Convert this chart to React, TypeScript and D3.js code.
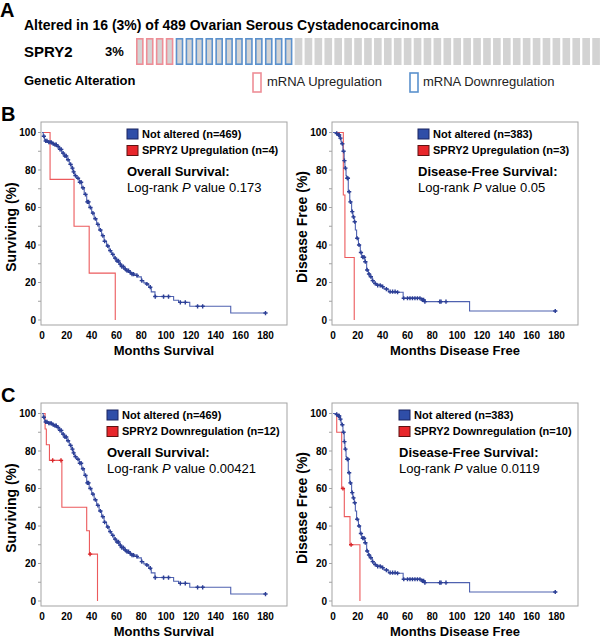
import React from 'react';
import * as d3 from 'd3';

const FONT = '"Liberation Sans", Arial, Helvetica, sans-serif';

// --- panel A: oncoprint ---
const oncoTypes = ['up', 'down', 'none'];
const oncoCounts = [4, 12, 31];
const oncoColors = { up: '#ee8e97', down: '#5b91cd', none: '#d3d3d3' };
const legendLabels = ['mRNA Upregulation', 'mRNA Downregulation'];

// --- KM data: not altered, overall survival (n=469) ---
const osTime = [0, 1, 2, 3, 5, 8, 10, 12, 14, 16, 18, 20, 22, 24, 25, 26, 28, 30, 32, 34, 36, 38, 40, 42, 44, 46, 48, 50, 52, 54, 56, 58, 60, 62, 64, 66, 68, 70, 72, 74, 77, 80, 82, 84, 86, 88, 91, 106, 110, 119, 152, 180];
const osSurv = [100, 98, 96, 95.5, 94.8, 94, 93.5, 92.5, 91, 89, 87.5, 85.5, 83, 81, 79, 77, 75.6, 73.5, 70.5, 67, 63, 60, 57, 54, 51, 48, 45, 42, 39.5, 37, 35, 33, 31.5, 29.8, 28.5, 27.2, 26.3, 25.4, 24.5, 23.8, 23, 21, 19.8, 19.2, 17.5, 15, 12.5, 10.5, 9.4, 7.3, 3.7, 3.7];
const osCensor = [1.5, 3, 4, 5.5, 6.5, 7.5, 9, 10.5, 11.5, 13, 14.5, 15.5, 17, 18.5, 19.5, 21, 23, 24.5, 25.5, 27, 29, 30.5, 31.5, 33, 35, 36.5, 37.5, 39, 41, 43, 45, 47, 49, 50.5, 53, 55, 57, 58.9, 60.5, 61.6, 63, 64.3, 65.5, 67, 68.5, 69.7, 71, 72.5, 73.7, 76.4, 80.4, 84.5, 87.2, 91.2, 97.9, 101.9, 111.4, 115.4, 125.3, 129.4, 180];

// --- not altered, disease free (n=383) ---
const dfsTime = [0, 2, 4, 5.5, 6.5, 7, 8, 9, 9.6, 10.5, 11, 12.3, 13.5, 15, 16, 17.1, 18, 19, 20.5, 22, 23.1, 25.7, 27.1, 28.5, 29.7, 31.5, 33, 35.1, 39, 41, 44.5, 51.2, 56.5, 71.3, 74, 110, 180];
const dfsSurv = [100, 99.5, 98.7, 97, 95, 94, 90, 85, 81, 77, 75.6, 68.4, 63, 57.8, 55, 52.4, 48, 43.6, 40, 36, 33.5, 31.1, 26.7, 24.5, 23.1, 21, 19.5, 18.5, 17.8, 16.5, 15.1, 14.8, 11.6, 10.7, 9.8, 4.8, 4.8];
const dfsCensor = [3, 4.5, 5, 6, 7.5, 8.5, 9.2, 10, 11.5, 12, 13, 14, 15.5, 16.5, 17.5, 19.5, 21, 22.5, 24, 25, 26, 27.5, 29, 30.5, 32, 34, 36, 38, 40, 43, 46, 48, 50, 52, 57, 60, 62, 64, 66, 68, 70, 72, 73, 74, 86, 87, 91, 179];

// --- SPRY2 altered groups ---
const osUpTime = [0, 6.5, 25.8, 38, 59];
const osUpSurv = [100, 75, 50, 25, 0];
const dfsUpTime = [0, 8.3, 9.6, 17.1];
const dfsUpSurv = [100, 66.7, 33.3, 0];
const osDownTime = [0, 2.5, 3.5, 6, 16, 36, 38.2, 44.7];
const osDownSurv = [100, 91.7, 83.3, 75, 50, 37.5, 25, 0];
const osDownCensor = [8.6, 15.3, 38.7];
const dfsDownTime = [0, 3, 7, 9.1, 13.7, 21.7];
const dfsDownSurv = [100, 90, 60, 45, 30, 0];
const dfsDownCensor = [8, 14.6];

const xTicks = [0, 20, 40, 60, 80, 100, 120, 140, 160, 180];
const yTicks = [0, 20, 40, 60, 80, 100];

const BLUE_LINE = '#4f62b0';
const BLUE_MARK = '#2c3f96';
const RED_LINE = '#ec5a5c';

const stepAt = (times, surv, t) => {
  const i = d3.bisectRight(times, t) - 1;
  return surv[Math.max(0, i)];
};

const KMPanel = ({ left, top, blue, red, labels, heading, pval, xTitle, yTitle, legendDx }) => {
  const w = 246;
  const h = 203;
  const x = d3.scaleLinear().domain([0, 180]).range([left + 1, left + 224.5]);
  const y = d3.scaleLinear().domain([0, 100]).range([top + 198, top + 10.5]);
  const line = d3.line().x((d) => x(d[0])).y((d) => y(d[1])).curve(d3.curveStepAfter);
  const cross = d3.symbol().type(d3.symbolCross).size(10);

  const curve = (s, color, markColor) => (
    <g>
      <path d={line(s.time.map((t, i) => [t, s.surv[i]]))} fill="none" stroke={color} strokeWidth={1.1} />
      {(s.censor || []).map((t, i) => (
        <path key={i} d={cross()} transform={`translate(${x(t)},${y(stepAt(s.time, s.surv, t))})`} fill={markColor} />
      ))}
    </g>
  );

  const lx = left + legendDx;
  return (
    <g fontFamily={FONT}>
      <rect x={left} y={top} width={w} height={h} fill="#fff" stroke="#a3a3a3" strokeWidth={1} />
      {d3.range(0, 101, 10).map((v) => (
        <line key={v} x1={left - 3} x2={left} y1={y(v)} y2={y(v)} stroke="#a3a3a3" />
      ))}
      {yTicks.map((v) => (
        <text key={v} x={left - 5} y={y(v)} dy="0.35em" textAnchor="end" fontSize={10} fontWeight="bold">{v}</text>
      ))}
      {xTicks.map((v) => (
        <text key={v} x={x(v)} y={top + h + 14} textAnchor="middle" fontSize={10} fontWeight="bold">{v}</text>
      ))}
      <text x={left + w / 2} y={top + h + 30} textAnchor="middle" fontSize={13} fontWeight="bold">{xTitle}</text>
      <text transform={`translate(${left - 30},${top + 105}) rotate(-90)`} textAnchor="middle" dy="0.35em" fontSize={14} fontWeight="bold">{yTitle}</text>

      {curve(red, RED_LINE, '#d9262a')}
      {curve(blue, BLUE_LINE, BLUE_MARK)}

      <rect x={lx} y={top + 7} width={11} height={10} fill="#2f4ea8" stroke="#1b2560" />
      <text x={lx + 15} y={top + 12} dy="0.35em" fontSize={11} fontWeight="bold">{labels[0]}</text>
      <rect x={lx} y={top + 23.5} width={11} height={10} fill="#e8262b" stroke="#5e1212" />
      <text x={lx + 15} y={top + 28.5} dy="0.35em" fontSize={11} fontWeight="bold">{labels[1]}</text>
      <text x={lx} y={top + 49} dy="0.35em" fontSize={13} fontWeight="bold">{heading}</text>
      <text x={lx} y={top + 65} dy="0.35em" fontSize={13}>
        Log-rank <tspan fontStyle="italic">P</tspan> value {pval}
      </text>
    </g>
  );
};

const Oncoprint = () => {
  const samples = oncoTypes.flatMap((t, i) => d3.range(oncoCounts[i]).map(() => t));
  const x = d3.scaleBand().domain(d3.range(samples.length)).range([136, 136 + samples.length * 9.87]).paddingInner(0.23).paddingOuter(0);
  const y0 = 38;
  const bh = 27;
  return (
    <g fontFamily={FONT}>
      {samples.map((t, i) =>
        t === 'none' ? (
          <rect key={i} x={x(i)} y={y0} width={x.bandwidth()} height={bh} fill={oncoColors.none} />
        ) : (
          <rect key={i} x={x(i) + 0.8} y={y0 + 0.8} width={x.bandwidth() - 1.6} height={bh - 1.6} fill={oncoColors.none} stroke={oncoColors[t]} strokeWidth={1.6} />
        )
      )}
      <rect x={253} y={73} width={8} height={19} fill="#fff" stroke={oncoColors.up} strokeWidth={1.6} />
      <text x={267} y={86} fontSize={13} fill="#222">{legendLabels[0]}</text>
      <rect x={410} y={73} width={8} height={19} fill="#fff" stroke={oncoColors.down} strokeWidth={1.6} />
      <text x={423} y={86} fontSize={13} fill="#222">{legendLabels[1]}</text>
    </g>
  );
};

export default function App() {
  const osBlue = { time: osTime, surv: osSurv, censor: osCensor };
  const dfsBlue = { time: dfsTime, surv: dfsSurv, censor: dfsCensor };
  return (
    <svg width={600} height={640} style={{ position: 'absolute', left: 0, top: 0, background: '#fff' }} fontFamily={FONT}>
      <text x={0} y={17} fontSize={20} fontWeight="bold">A</text>
      <text x={24} y={30} fontSize={14} fontWeight="bold">Altered in 16 (3%) of 489 Ovarian Serous Cystadenocarcinoma</text>
      <text x={24} y={57} fontSize={15} fontWeight="bold">SPRY2</text>
      <text x={105} y={56} fontSize={13} fontWeight="bold">3%</text>
      <text x={24} y={85} fontSize={13} fontWeight="bold">Genetic Alteration</text>
      <Oncoprint />

      <text x={1} y={121} fontSize={20} fontWeight="bold">B</text>
      <KMPanel left={41} top={122} blue={osBlue} red={{ time: osUpTime, surv: osUpSurv }}
        labels={['Not altered (n=469)', 'SPRY2 Upregulation (n=4)']} heading="Overall Survival:" pval="0.173"
        xTitle="Months Survival" yTitle="Surviving (%)" legendDx={86} />
      <KMPanel left={332} top={122} blue={dfsBlue} red={{ time: dfsUpTime, surv: dfsUpSurv }}
        labels={['Not altered (n=383)', 'SPRY2 Upregulation (n=3)']} heading="Disease-Free Survival:" pval="0.05"
        xTitle="Months Disease Free" yTitle="Disease Free (%)" legendDx={86} />

      <text x={1} y={402} fontSize={20} fontWeight="bold">C</text>
      <KMPanel left={41} top={403} blue={osBlue} red={{ time: osDownTime, surv: osDownSurv, censor: osDownCensor }}
        labels={['Not altered (n=469)', 'SPRY2 Downregulation (n=12)']} heading="Overall Survival:" pval="0.00421"
        xTitle="Months Survival" yTitle="Surviving (%)" legendDx={66} />
      <KMPanel left={332} top={403} blue={dfsBlue} red={{ time: dfsDownTime, surv: dfsDownSurv, censor: dfsDownCensor }}
        labels={['Not altered (n=383)', 'SPRY2 Downregulation (n=10)']} heading="Disease-Free Survival:" pval="0.0119"
        xTitle="Months Disease Free" yTitle="Disease Free (%)" legendDx={67} />
    </svg>
  );
}
